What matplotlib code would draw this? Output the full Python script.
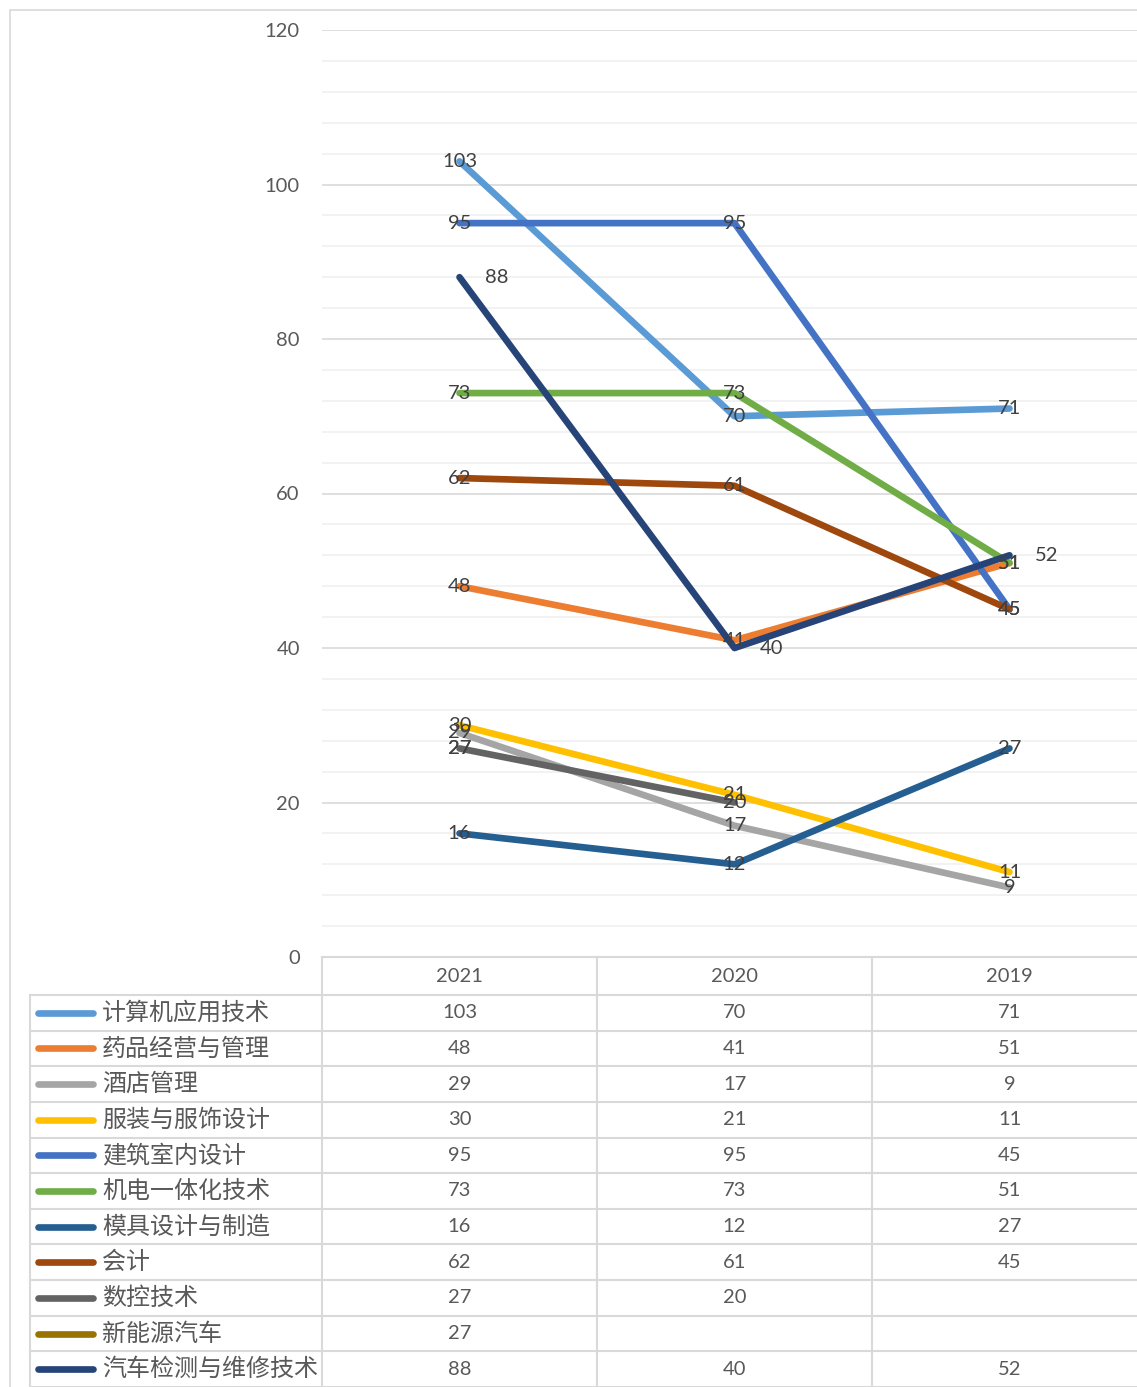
import numpy as np
import matplotlib
matplotlib.use("Agg")
import matplotlib.pyplot as plt
from matplotlib.patches import Rectangle
from matplotlib.lines import Line2D

plt.rcParams['font.family'] = ['Lato', 'Noto Sans CJK SC', 'DejaVu Sans']

years = ['2021', '2020', '2019']
majors = ['计算机应用技术', '药品经营与管理', '酒店管理', '服装与服饰设计', '建筑室内设计',
          '机电一体化技术', '模具设计与制造', '会计', '数控技术', '新能源汽车', '汽车检测与维修技术']
computer = [103, 70, 71]
pharma = [48, 41, 51]
hotel = [29, 17, 9]
fashion = [30, 21, 11]
interior = [95, 95, 45]
mechatronics = [73, 73, 51]
mould = [16, 12, 27]
accounting = [62, 61, 45]
cnc = [27, 20, np.nan]
new_energy = [27, np.nan, np.nan]
auto_repair = [88, 40, 52]
series = [computer, pharma, hotel, fashion, interior, mechatronics, mould,
          accounting, cnc, new_energy, auto_repair]
colors = ['#5B9BD5', '#ED7D31', '#A5A5A5', '#FFC000', '#4472C4', '#70AD47',
          '#255E91', '#9E480E', '#636363', '#997300', '#264478']

W, H = 1137, 1387
fig = plt.figure(figsize=(W / 100, H / 100), dpi=100)

# chart area border (cut off on right/bottom)
fig.add_artist(Rectangle((10 / W, -0.01), 1.0, 1 - 10 / H + 0.01, transform=fig.transFigure,
                         fill=False, edgecolor='#D9D9D9', lw=1.2))

# main plot
left, right, top, zero = 322, 1147, 30, 957
ax = fig.add_axes([left / W, (H - zero) / H, (right - left) / W, (zero - top) / H])
x = np.arange(len(years))
for vals, c in zip(series, colors):
    ax.plot(x, vals, color=c, lw=4.8, solid_capstyle='round', solid_joinstyle='round', zorder=3)

label_color = '#404040'
for i, (vals, c) in enumerate(zip(series, colors)):
    for xi, v in zip(x, vals):
        if np.isnan(v):
            continue
        if i == len(series) - 1:
            ax.annotate(f'{v:g}', (xi, v), xytext=(27, 0), textcoords='offset points',
                        ha='center', va='center', fontsize=14.5, color=label_color, zorder=5)
        else:
            ax.text(xi, v, f'{v:g}', ha='center', va='center', fontsize=14.5,
                    color=label_color, zorder=5)

ax.set_xlim(-0.5, 2.5)
ax.set_ylim(0, 120)
ax.set_yticks(np.arange(0, 121, 20))
ax.set_yticks(np.arange(0, 121, 4), minor=True)
ax.grid(axis='y', which='major', color='#D9D9D9', lw=1.2, zorder=0)
ax.grid(axis='y', which='minor', color='#F0F0F0', lw=1.2, zorder=0)
ax.tick_params(axis='y', which='both', length=0, pad=16, labelsize=14.5, labelcolor='#595959')
ax.tick_params(axis='x', which='both', length=0, labelbottom=False)
for s in ax.spines.values():
    s.set_visible(False)

# data table
tab = fig.add_axes([0, 0, 1, 1], facecolor='none')
tab.set_xlim(0, W)
tab.set_ylim(H, 0)
tab.axis('off')
gc = '#D9D9D9'
col_w = 275
header_bot = 995
row_h = (H - header_bot) / len(majors)
tab.plot([left, right], [zero, zero], color=gc, lw=1.5)
for k in range(len(majors) + 1):
    yy = header_bot + k * row_h
    tab.plot([30, right], [yy, yy], color=gc, lw=1.5)
for k in range(3):
    xx = left + k * col_w
    tab.plot([xx, xx], [zero, H], color=gc, lw=1.5)
tab.plot([30, 30], [header_bot, H], color=gc, lw=1.5)

for j, yr in enumerate(years):
    tab.text(left + col_w * (j + 0.5), (zero + header_bot) / 2, yr, ha='center', va='center',
             fontsize=14.5, color='#595959')
for i, (name, vals, c) in enumerate(zip(majors, series, colors)):
    yc = header_bot + (i + 0.5) * row_h
    tab.add_line(Line2D([38, 93], [yc, yc], color=c, lw=4.8, solid_capstyle='round'))
    tab.text(102, yc, name, ha='left', va='center', fontsize=17.3, color='#595959',
             family=['Noto Sans CJK SC', 'DejaVu Sans'])
    for j, v in enumerate(vals):
        if not np.isnan(v):
            tab.text(left + col_w * (j + 0.5), yc, f'{v:g}', ha='center', va='center',
                     fontsize=14.5, color='#595959')

fig.savefig('out.png', dpi=100)
